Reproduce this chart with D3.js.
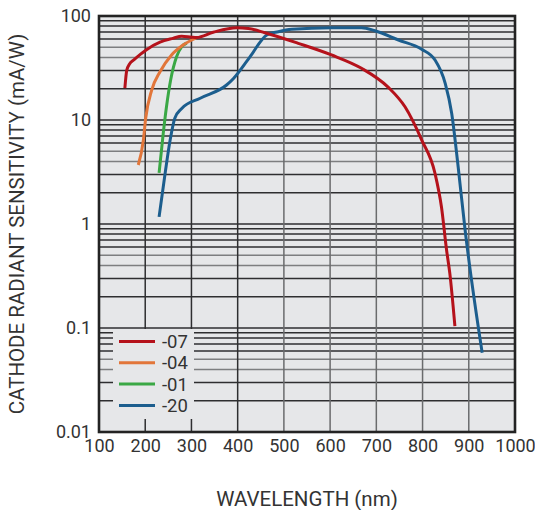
<!DOCTYPE html>
<html>
<head>
<meta charset="utf-8">
<script src="https://cdn.jsdelivr.net/npm/d3@7"></script>
<style>
  body { margin: 0; background: #fff; }
  svg { font-family: Roboto, "Noto Sans", sans-serif; }
</style>
</head>
<body>
<div id="chart"></div>
<script>
// series: wavelength (nm) and sensitivity (mA/W)
const series07 = [
  [156, 20.3], [160, 30], [166, 34.5], [176, 38], [190, 43], [202, 47.2], [232, 56],
  [260, 61], [279, 64], [300, 62.5], [311, 62], [347, 69.7], [398, 77.2], [423, 76],
  [459, 69], [531, 54.6], [603, 42.2], [668, 31.4], [726, 20.6], [762, 13.4],
  [798, 6.45], [827, 3.06], [841, 1.45], [852, 0.56], [859, 0.335], [870, 0.104]
];
const series04 = [
  [185, 3.69], [196, 6.4], [201, 10.4], [214, 19.4], [232, 29.1], [257, 42.2],
  [282, 52.6], [311, 61.8]
];
const series01 = [
  [230, 3.1], [239, 7.45], [246, 13.4], [255, 24.2], [268, 40.7], [279, 50.7], [290, 55]
];
const series20 = [
  [230, 1.17], [243, 3.06], [254, 6.45], [264, 10.4], [279, 12.9], [319, 16.2],
  [376, 21.7], [391, 25.1], [427, 40.7], [463, 65.7], [488, 70.6], [517, 74.4],
  [603, 77.2], [668, 77.2], [697, 72.2], [748, 58.8], [798, 47.9], [827, 37.7],
  [849, 22.5], [863, 11.6], [877, 3.55], [892, 0.88], [929, 0.0577]
];
const seriesNames = ["-07", "-04", "-01", "-20"];
const seriesColors = ["#b5121b", "#e2763a", "#3aa845", "#1c5e8e"];
const xTicks = [100, 200, 300, 400, 500, 600, 700, 800, 900, 1000];
const yTicks = [0.01, 0.1, 1, 10, 100];
const yTickLabels = ["0.01", "0.1", "1", "10", "100"];

const allSeries = [series07, series04, series01, series20];

const width = 535, height = 510;
const margin = { top: 16, right: 20, bottom: 78, left: 99 };
const innerW = width - margin.left - margin.right;
const innerH = height - margin.top - margin.bottom;

const svg = d3.select("#chart").append("svg")
  .attr("width", width)
  .attr("height", height);

const g = svg.append("g").attr("transform", `translate(${margin.left},${margin.top})`);

const x = d3.scaleLinear().domain([100, 1000]).range([0, innerW]);
const y = d3.scaleLog().domain([0.01, 100]).range([innerH, 0]);

// plot background
g.append("rect")
  .attr("width", innerW)
  .attr("height", innerH)
  .attr("fill", "#e6e7e9");

// horizontal grid (every log minor step)
const hLines = [];
[0.01, 0.1, 1, 10].forEach(dec => {
  for (let k = 1; k < 10; k++) hLines.push({ v: dec * k, k: k });
});
g.append("g").selectAll("line")
  .data(hLines)
  .join("line")
  .attr("x1", 0).attr("x2", innerW)
  .attr("y1", d => y(d.v)).attr("y2", d => y(d.v))
  .attr("stroke", d => (d.k === 4 || d.k === 5) ? "#7d7e80" : "#2e2e30")
  .attr("stroke-width", 1.5);

// vertical grid
g.append("g").selectAll("line")
  .data(xTicks.slice(1, -1))
  .join("line")
  .attr("x1", d => x(d)).attr("x2", d => x(d))
  .attr("y1", 0).attr("y2", innerH)
  .attr("stroke", d => d <= 400 ? "#2e2e30" : "#6a6b6d")
  .attr("stroke-width", 1.5);

// curves
const line = d3.line()
  .x(d => x(d[0]))
  .y(d => y(d[1]))
  .curve(d3.curveMonotoneX);

// draw order: blue under red like reference
[3, 2, 1, 0].forEach(i => {
  g.append("path")
    .datum(allSeries[i])
    .attr("fill", "none")
    .attr("stroke", seriesColors[i])
    .attr("stroke-width", 3)
    .attr("stroke-linejoin", "round")
    .attr("d", line);
});

// legend
const legend = g.append("g").attr("transform", `translate(${113 - margin.left},${329 - margin.top})`);
legend.append("rect")
  .attr("width", 81).attr("height", 90)
  .attr("fill", "#e6e7e9");
seriesNames.forEach((name, i) => {
  const ly = 12.5 + i * 21.3;
  legend.append("line")
    .attr("x1", 6).attr("x2", 42)
    .attr("y1", ly).attr("y2", ly)
    .attr("stroke", seriesColors[i])
    .attr("stroke-width", 3);
  legend.append("text")
    .attr("x", 49).attr("y", ly)
    .attr("dy", "0.36em")
    .attr("font-size", 18.5)
    .attr("fill", "#333")
    .text(name);
});

// frame
g.append("rect")
  .attr("width", innerW)
  .attr("height", innerH)
  .attr("fill", "none")
  .attr("stroke", "#232323")
  .attr("stroke-width", 2.6);

// axes
const xAxis = d3.axisBottom(x).tickValues(xTicks).tickSize(0).tickPadding(7)
  .tickFormat(d3.format("d"));
const yAxis = d3.axisLeft(y).tickValues(yTicks).tickSize(0).tickPadding(8)
  .tickFormat((d, i) => yTickLabels[i]);

const gx = g.append("g").attr("transform", `translate(0,${innerH})`).call(xAxis);
const gy = g.append("g").call(yAxis);
[gx, gy].forEach(a => {
  a.select(".domain").remove();
  a.selectAll("text")
    .attr("font-size", 18)
    .attr("font-family", "Roboto, sans-serif")
    .attr("fill", "#333");
});

// axis titles
svg.append("text")
  .attr("x", 307)
  .attr("y", 506)
  .attr("text-anchor", "middle")
  .attr("font-size", 20.5)
  .attr("fill", "#333")
  .text("WAVELENGTH (nm)");

svg.append("text")
  .attr("transform", `translate(24,224) rotate(-90)`)
  .attr("text-anchor", "middle")
  .attr("font-size", 20.5)
  .attr("fill", "#333")
  .text("CATHODE RADIANT SENSITIVITY (mA/W)");
</script>
</body>
</html>
